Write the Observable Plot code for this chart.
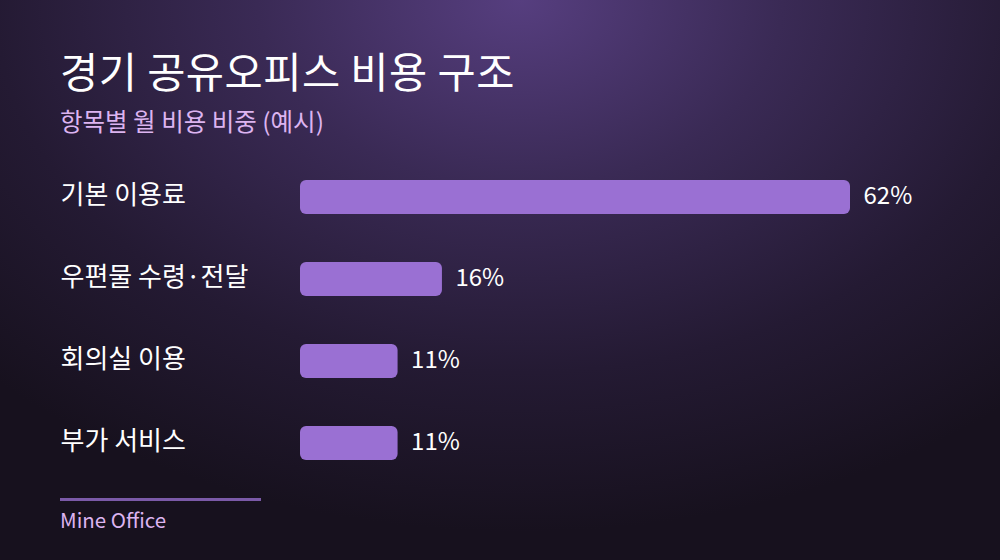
<!DOCTYPE html>
<html><head><meta charset="utf-8">
<script src="https://cdn.jsdelivr.net/npm/d3@7"></script>
<script src="https://cdn.jsdelivr.net/npm/@observablehq/plot@0.6"></script>
<style>
html,body{margin:0;padding:0;}
body{width:1000px;height:560px;overflow:hidden;font-family:"Noto Sans CJK KR","Noto Sans",sans-serif;}
#wrap{position:relative;width:1000px;height:560px;
background:radial-gradient(ellipse 75% 95% at 52% 0%, #563e7f 0%, #3a2a55 35%, #241a33 70%, #17111e 100%);}
#title{position:absolute;left:60px;top:50px;font-size:41.5px;font-weight:400;color:#ffffff;line-height:1;letter-spacing:0.5px;white-space:nowrap;}
#subtitle{position:absolute;left:60px;top:109px;font-size:24.5px;color:#dcb4f0;line-height:1;white-space:nowrap;}
#chart{position:absolute;left:0;top:156px;}
#rule{position:absolute;left:60px;top:498px;width:201px;height:3px;background:#7b5aa8;}
#foot{position:absolute;left:60px;top:509px;font-size:20.5px;color:#dcb4f0;line-height:1;white-space:nowrap;}
</style></head>
<body><div id="wrap">
<div id="title">경기 공유오피스 비용 구조</div>
<div id="subtitle">항목별 월 비용 비중 (예시)</div>
<div id="chart"></div>
<div id="rule"></div>
<div id="foot">Mine Office</div>
</div>
<script>
const categories = ["기본 이용료", "우편물 수령·전달", "회의실 이용", "부가 서비스"];
const values = [62, 16, 11, 11];
const valueLabels = ["62%", "16%", "11%", "11%"];
const data = categories.map((c, i) => ({cat: c, v: values[i], label: valueLabels[i]}));
const fontFamily = '"Noto Sans CJK KR","Noto Sans",sans-serif';
const plot = Plot.plot({
  width: 1000, height: 328,
  marginLeft: 300, marginRight: 150, marginTop: 0, marginBottom: 0,
  style: {background: "transparent", fontFamily, overflow: "visible"},
  x: {domain: [0, 62], axis: null},
  y: {domain: categories, axis: null, paddingInner: 0.585, paddingOuter: 0.2925},
  marks: [
    Plot.barX(data, {x: "v", y: "cat", fill: "#9a70d3", rx: 6}),
    Plot.text(data, {x: 0, y: "cat", text: "cat", dx: -240, textAnchor: "start", fill: "#ffffff", fontSize: 26, dy: -2}),
    Plot.text(data, {x: "v", y: "cat", text: "label", dx: 13, textAnchor: "start", fill: "#ffffff", fontSize: 24, dy: -1})
  ]
});
document.getElementById("chart").appendChild(plot);
</script>
</body></html>
